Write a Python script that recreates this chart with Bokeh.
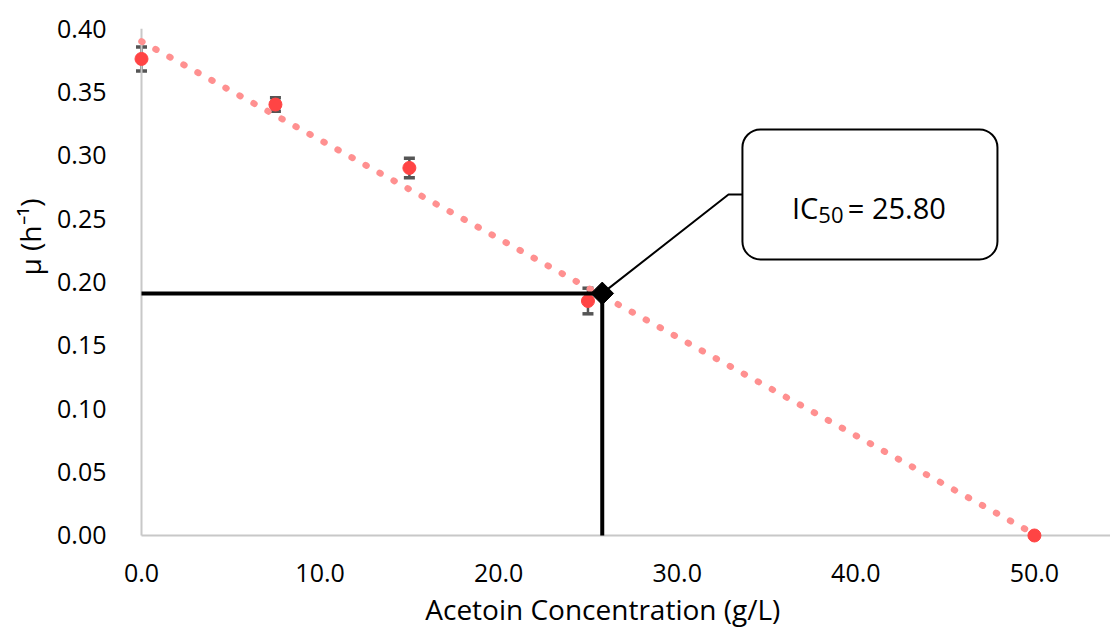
import numpy as np
from bokeh.plotting import figure
from bokeh.models import (ColumnDataSource, Whisker, TeeHead, FixedTicker,
                          NumeralTickFormatter, Label, BoxAnnotation, Range1d, Title)
from bokeh.embed import file_html
from bokeh.resources import INLINE

# ---------------- data ----------------
conc = [0.0, 7.5, 15.0, 25.0, 50.0]          # Acetoin concentration (g/L)
mu = [0.376, 0.340, 0.290, 0.185, 0.0]        # specific growth rate (1/h)
mu_err = [0.0095, 0.0053, 0.0077, 0.0101, 0.0]
ic50_x = 25.80
ic50_y = 0.191
x_ticks = [0, 10, 20, 30, 40, 50]
y_ticks = [0.00, 0.05, 0.10, 0.15, 0.20, 0.25, 0.30, 0.35, 0.40]
x_title = "Acetoin Concentration (g/L)"
y_title = "μ (h⁻¹)"

# annotation placement (data units)
box_left, box_right, box_bottom, box_top = 33.65, 47.93, 0.2178, 0.3203
elbow_x, elbow_y = 32.87, 0.269
text_x, text_y, sub_y, rest_x = 37.9, 0.2588, 0.2530, 39.55

# linear trend line (least squares, as Excel's trendline)
slope, intercept = np.polyfit(conc, mu, 1)
trend_x = [0.0, 50.0]
trend_y = [intercept + slope * t for t in trend_x]

FONT = "Open Sans"
x_start, x_end = -0.56, 54.26
y_start, y_end = -0.0079, 0.40

p = figure(width=1110, height=630, output_backend="svg", toolbar_location=None,
           x_range=Range1d(x_start, x_end), y_range=Range1d(y_start, y_end),
           min_border_left=131, min_border_right=0, min_border_top=28, min_border_bottom=85)
p.background_fill_color = "white"
p.border_fill_color = "white"
p.outline_line_color = None
p.xgrid.grid_line_color = None
p.ygrid.grid_line_color = None

for ax in (p.xaxis[0], p.yaxis[0]):
    ax.axis_line_color = None
    ax.major_tick_line_color = None
    ax.minor_tick_line_color = None
    ax.major_label_text_font = FONT
    ax.major_label_text_font_size = "25px"
    ax.major_label_text_color = "black"

p.xaxis.ticker = FixedTicker(ticks=x_ticks)
p.xaxis.formatter = NumeralTickFormatter(format="0.0")
p.xaxis.major_label_standoff = 12
# trailing no-break spaces shift the centred title left, as in the original
p.xaxis.axis_label = x_title + "\u00a0" * 5
p.xaxis.axis_label_text_font = FONT
p.xaxis.axis_label_text_font_size = "28px"
p.xaxis.axis_label_text_font_style = "normal"
p.xaxis.axis_label_text_color = "black"
p.xaxis.axis_label_standoff = 5

p.yaxis.ticker = FixedTicker(ticks=y_ticks)
p.yaxis.formatter = NumeralTickFormatter(format="0.00")
p.yaxis.major_label_standoff = 19

ytitle = Title(text=y_title, align="left", offset=270, standoff=12,
               text_font=FONT, text_font_size="28px", text_font_style="normal",
               text_color="black")
p.add_layout(ytitle, "left")

# own axis lines at x=0 and y=0
p.segment(x0=[0, 0], y0=[0, 0], x1=[0, x_end], y1=[y_end, 0],
          line_color="#C8C8C8", line_width=2)

# trend line (round dots)
p.line(trend_x, trend_y, line_color="#FF9090", line_width=6.5,
       line_dash="1 15", line_cap="round")

# error bars
src = ColumnDataSource(dict(x=conc, y=mu,
                            upper=[m + e for m, e in zip(mu, mu_err)],
                            lower=[m - e for m, e in zip(mu, mu_err)]))
wh = Whisker(base="x", upper="upper", lower="lower", source=src, dimension="height",
             line_color="#555555", line_width=2.5,
             upper_head=TeeHead(size=11, line_color="#555555", line_width=3.5),
             lower_head=TeeHead(size=11, line_color="#555555", line_width=3.5))
p.add_layout(wh)

# data points
p.scatter("x", "y", source=src, size=13, color="#FF4444")

# IC50 guide lines
p.line([0, ic50_x], [ic50_y, ic50_y], line_color="black", line_width=4)
p.line([ic50_x, ic50_x], [0, ic50_y], line_color="black", line_width=4)

# leader line to callout
p.line([ic50_x, elbow_x, box_left], [ic50_y, elbow_y, elbow_y], line_color="black", line_width=2)

# IC50 marker
p.scatter([ic50_x], [ic50_y], marker="square", angle=np.pi / 4, size=16, color="black")

# callout box
box = BoxAnnotation(left=box_left, right=box_right, bottom=box_bottom, top=box_top,
                    fill_color="white", fill_alpha=1.0, line_color="black", line_alpha=1.0,
                    line_width=2, border_radius=18, level="overlay")
p.add_layout(box)

lab_ic = Label(x=text_x, y=text_y, text="IC", text_align="right", text_baseline="alphabetic",
               text_font=FONT, text_font_size="29px", text_color="black", level="overlay")
lab_sub = Label(x=text_x, y=sub_y, text="50", text_align="left", text_baseline="alphabetic",
                text_font=FONT, text_font_size="22px", text_color="black", level="overlay")
lab_val = Label(x=rest_x, y=text_y, text=f"= {ic50_x:.2f}", text_align="left",
                text_baseline="alphabetic", text_font=FONT, text_font_size="29px",
                text_color="black", level="overlay")
for lab in (lab_ic, lab_sub, lab_val):
    p.add_layout(lab)

open("out.html", "w").write(file_html(p, INLINE))
